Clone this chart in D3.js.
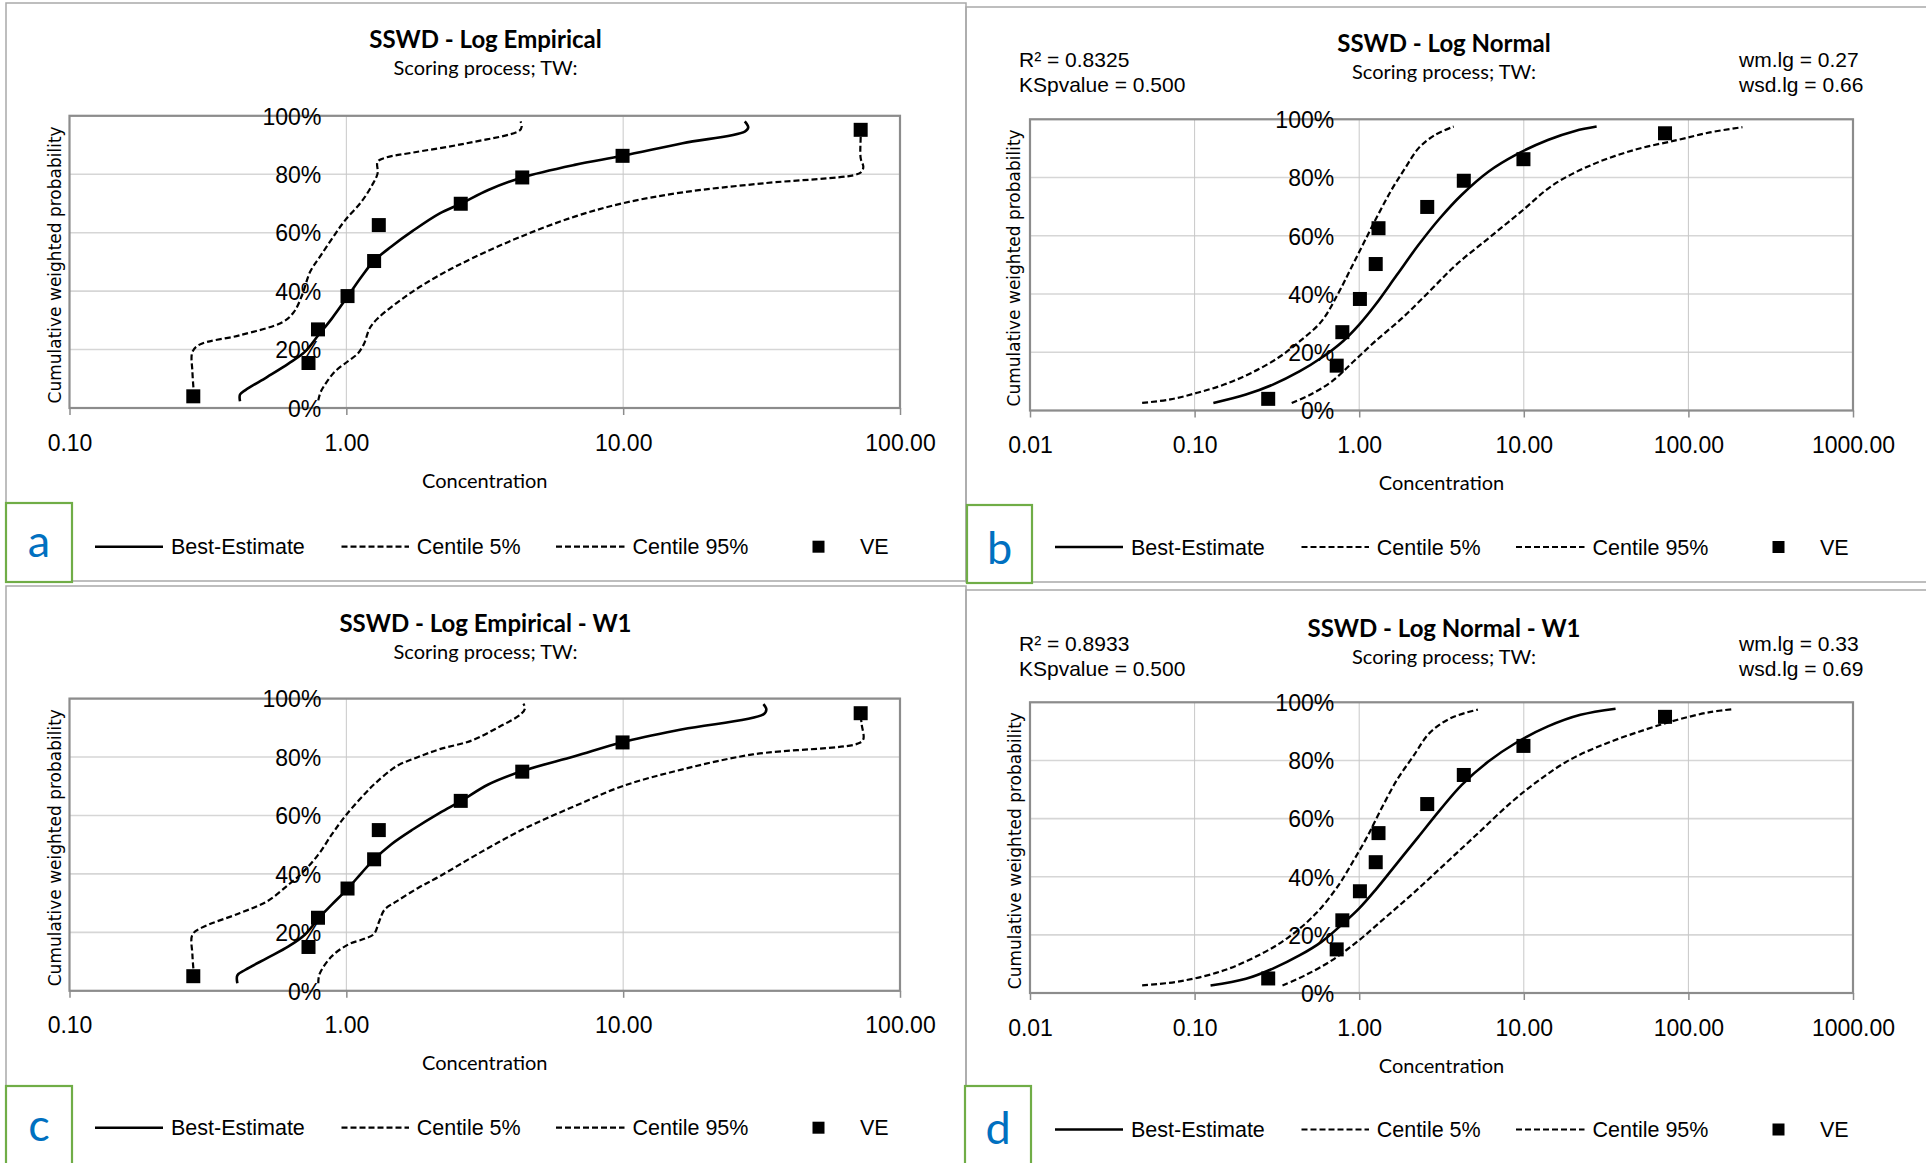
<!DOCTYPE html>
<html>
<head>
<meta charset="utf-8">
<script src="https://cdnjs.cloudflare.com/ajax/libs/d3/7.8.5/d3.min.js"></script>
<style>
  html, body { margin: 0; padding: 0; background: #ffffff; }
  svg { display: block; }
</style>
</head>
<body>
<svg id="chart" width="1926" height="1163"></svg>
<script>
// ---- VE observations (concentration, cumulative weighted probability %) ----
const veConc   = [0.28, 0.73, 0.79, 1.01, 1.26, 1.31, 2.59, 4.32, 9.95, 72.1];
const veProbTW = [4.0, 15.4, 26.9, 38.3, 50.3, 62.6, 69.9, 78.9, 86.3, 95.2];
const veProbW1 = [5, 15, 25, 35, 45, 55, 65, 75, 85, 95];

// ---- Log empirical, TW: [concentration, %] ----
const empBestTW = [[0.413,2.3],[0.413,4.6],[0.432,6.1],[0.517,10.6],[0.618,15.2],[0.708,19.2],[0.792,24.9],[0.886,30.6],[1.01,38.1],[1.134,44.9],[1.257,50.3],[1.451,55.2],[1.737,60.6],[2.175,66.6],[2.59,69.9],[3.256,74.6],[4.32,78.9],[6.68,83.2],[9.95,86.3],[16.4,90.6],[27.5,94.6],[28.3,96.0],[27.5,98.1]];
const empLowTW  = [[0.282,4.0],[0.278,12.3],[0.278,19.2],[0.295,21.7],[0.413,24.9],[0.591,29.5],[0.647,32.9],[0.692,38.6],[0.740,46.6],[0.810,52.3],[0.906,59.2],[0.991,64.3],[1.134,70.6],[1.240,76.3],[1.297,80.3],[1.297,84.3],[1.388,85.7],[1.737,87.4],[2.72,90.6],[4.22,94.9],[4.30,96.3],[4.26,98.1]];
const empHighTW = [[0.792,2.6],[0.810,5.7],[0.906,12.3],[1.014,16.0],[1.099,18.6],[1.160,22.1],[1.213,27.2],[1.297,30.6],[1.661,38.6],[2.174,45.5],[2.846,51.2],[4.26,58.6],[6.68,65.5],[10.0,70.1],[16.4,73.8],[32.1,76.9],[68.9,79.8],[72.7,80.9],[73.7,82.6],[72.1,85.5],[72.1,92.9],[72.1,95.2]];

// ---- Log empirical, W1 ----
const empBestW1 = [[0.404,2.6],[0.404,5.3],[0.432,7.2],[0.517,11.2],[0.618,15.2],[0.708,19.2],[0.792,24.7],[0.886,29.5],[1.01,34.9],[1.134,40.3],[1.257,44.9],[1.451,50.1],[1.737,55.2],[2.175,60.9],[2.59,64.9],[3.256,70.6],[4.32,75.2],[6.68,80.3],[9.95,85.1],[16.4,89.5],[32.1,94.6],[32.9,96.3],[32.1,98.1]];
const empLowW1  = [[0.282,4.6],[0.278,12.3],[0.278,19.2],[0.302,21.7],[0.413,26.6],[0.517,30.6],[0.618,36.3],[0.692,40.3],[0.792,46.6],[0.886,53.5],[0.991,59.8],[1.16,67.2],[1.268,70.9],[1.52,76.9],[1.817,80.0],[2.175,82.7],[2.846,85.7],[3.56,90.3],[4.26,94.6],[4.42,96.7],[4.36,98.3]];
const empHighW1 = [[0.792,2.6],[0.800,5.7],[0.886,11.8],[1.014,15.8],[1.16,17.8],[1.257,19.4],[1.315,23.8],[1.375,27.8],[1.518,30.6],[1.817,35.2],[2.175,39.2],[3.11,47.8],[4.46,55.8],[6.68,63.2],[10.0,70.1],[16.4,75.8],[29.4,80.9],[70.5,84.6],[73.7,86.1],[72.7,91.2],[72.1,94.1]];

// ---- Log normal, TW ----
const normBestTW = [[0.130,2.6],[0.205,5.5],[0.299,8.9],[0.436,13.5],[0.590,18.1],[0.797,23.8],[1.0,29.5],[1.254,36.3],[1.696,46.6],[2.295,56.9],[3.10,66.1],[4.20,74.1],[6.12,82.1],[8.93,87.8],[14.0,92.9],[20.5,96.0],[27.7,97.5]];
const normLowTW  = [[0.048,2.6],[0.0712,3.8],[0.104,6.1],[0.151,8.9],[0.221,12.9],[0.322,18.1],[0.436,23.8],[0.590,30.6],[0.739,39.8],[0.893,48.9],[1.078,58.1],[1.302,67.2],[1.573,75.8],[1.90,83.2],[2.295,90.1],[2.88,94.6],[3.75,97.5]];
const normHighTW = [[0.389,2.6],[0.507,5.5],[0.686,10.1],[0.927,16.9],[1.254,23.8],[1.83,31.8],[2.67,40.9],[3.89,50.1],[6.12,59.2],[9.63,68.3],[15.1,77.5],[25.7,84.3],[47.0,89.5],[86.0,92.9],[135,95.5],[213,97.3]];

// ---- Log normal, W1 ----
const normBestW1 = [[0.125,2.6],[0.205,4.9],[0.299,8.4],[0.436,13.0],[0.590,17.6],[0.797,23.9],[1.0,29.1],[1.254,35.4],[1.696,44.6],[2.295,53.8],[3.10,63.0],[4.20,71.6],[6.12,79.7],[8.93,86.0],[14.0,91.7],[22.1,95.7],[36.1,97.8]];
const normLowW1  = [[0.048,2.6],[0.0828,4.1],[0.151,7.8],[0.257,13.6],[0.375,19.3],[0.547,27.4],[0.739,36.6],[0.927,45.7],[1.12,53.8],[1.352,63.0],[1.696,73.3],[2.128,81.4],[2.67,89.4],[3.61,94.6],[5.26,97.5]];
const normHighW1 = [[0.342,2.6],[0.47,6.1],[0.686,11.3],[1.0,18.2],[1.458,26.2],[2.128,34.3],[3.35,44.6],[5.26,54.9],[8.28,65.3],[12.1,72.8],[19.0,80.2],[32.2,86.0],[54.7,90.6],[86.0,94.0],[135,96.6],[190,97.7]];

// ---- Axis ticks and labels ----
const xTicksEmp  = [0.1, 1, 10, 100];
const xTicksNorm = [0.01, 0.1, 1, 10, 100, 1000];
const yTicks     = [0, 20, 40, 60, 80, 100];
const legendLabels = ["Best-Estimate", "Centile 5%", "Centile 95%", "VE"];
const panelTitles  = ["SSWD - Log Empirical", "SSWD - Log Normal", "SSWD - Log Empirical - W1", "SSWD - Log Normal - W1"];
const panelSubtitle = "Scoring process; TW:";
const panelLetters = ["a", "b", "c", "d"];
const xAxisTitle = "Concentration";
const yAxisTitle = "Cumulative weighted probability";
const fitStatsTW = ["R\u00B2 = 0.8325", "KSpvalue = 0.500"];
const fitParamsTW = ["wm.lg = 0.27", "wsd.lg = 0.66"];
const fitStatsW1 = ["R\u00B2 = 0.8933", "KSpvalue = 0.500"];
const fitParamsW1 = ["wm.lg = 0.33", "wsd.lg = 0.69"];

const svg = d3.select("#chart");
const FONT_TITLE = "Lato, 'Open Sans', sans-serif";
const FONT_ARIAL = "'Liberation Sans', Arial, sans-serif";
const DASH = "6,3";

function drawPanel(o) {
  const g = svg.append("g");

  // outer panel frame
  g.append("rect")
    .attr("x", o.frame[0]).attr("y", o.frame[1])
    .attr("width", o.frame[2] - o.frame[0]).attr("height", o.frame[3] - o.frame[1])
    .attr("fill", "none").attr("stroke", "#a9a9a9").attr("stroke-width", 1.5);

  const x = d3.scaleLog().domain([o.xTicks[0], o.xTicks[o.xTicks.length - 1]]).range([o.L, o.R]);
  const y = d3.scaleLinear().domain([0, 100]).range([o.B, o.T]);

  // gridlines
  g.append("g").selectAll("line").data(yTicks).join("line")
    .attr("x1", o.L).attr("x2", o.R)
    .attr("y1", d => y(d)).attr("y2", d => y(d))
    .attr("stroke", "#d6d6d6").attr("stroke-width", 1.6);
  g.append("g").selectAll("line").data(o.xTicks).join("line")
    .attr("x1", d => x(d)).attr("x2", d => x(d))
    .attr("y1", o.T).attr("y2", o.B)
    .attr("stroke", "#c8c8c8").attr("stroke-width", 1);

  // plot border
  g.append("rect")
    .attr("x", o.L).attr("y", o.T)
    .attr("width", o.R - o.L).attr("height", o.B - o.T)
    .attr("fill", "none").attr("stroke", "#8c8c8c").attr("stroke-width", 2.2);

  // x axis (ticks below the plot)
  const xa = g.append("g").attr("transform", `translate(0,${o.B})`)
    .call(d3.axisBottom(x).tickValues(o.xTicks).tickFormat(d3.format(".2f")).tickSize(7));
  xa.select(".domain").remove();
  xa.selectAll(".tick line").attr("stroke", "#8c8c8c").attr("stroke-width", 1.5);
  xa.selectAll(".tick text")
    .attr("y", 42.5).attr("dy", null)
    .attr("font-family", FONT_ARIAL).attr("font-size", 23).attr("fill", "#000");

  // y axis crossing at concentration 1
  const ya = g.append("g").attr("transform", `translate(${x(1)},0)`)
    .call(d3.axisLeft(y).tickValues(yTicks).tickFormat(d => d + "%").tickSize(0).tickPadding(25));
  ya.select(".domain").remove();
  ya.selectAll(".tick text")
    .attr("dy", "0.36em")
    .attr("font-family", FONT_ARIAL).attr("font-size", 23).attr("fill", "#000");

  // axis titles
  g.append("text")
    .attr("x", (o.L + o.R) / 2).attr("y", o.B + 79.5)
    .attr("text-anchor", "middle")
    .attr("font-family", FONT_TITLE).attr("font-size", 20).attr("fill", "#000")
    .text(xAxisTitle);
  g.append("text")
    .attr("transform", `translate(${o.yTitleX},${(o.T + o.B) / 2 + 3}) rotate(-90)`)
    .attr("text-anchor", "middle").attr("dy", "0.36em")
    .attr("font-family", "'DejaVu Sans', Verdana, sans-serif").attr("font-size", 17).attr("fill", "#000")
    .text(yAxisTitle);

  // chart title and subtitle
  g.append("text")
    .attr("x", o.titleX).attr("y", o.titleY)
    .attr("text-anchor", "middle")
    .attr("font-family", FONT_TITLE).attr("font-weight", "bold").attr("font-size", 24).attr("fill", "#000")
    .text(o.title);
  g.append("text")
    .attr("x", o.titleX).attr("y", o.subY)
    .attr("text-anchor", "middle")
    .attr("font-family", FONT_TITLE).attr("font-size", 20).attr("fill", "#000")
    .text(panelSubtitle);

  // fit statistics (log-normal panels)
  if (o.stats) {
    g.append("g").selectAll("text").data(o.stats).join("text")
      .attr("x", o.statsX).attr("y", (d, i) => o.statsY + i * 24.5)
      .attr("font-family", FONT_ARIAL).attr("font-size", 21).attr("fill", "#000")
      .text(d => d);
    g.append("g").selectAll("text").data(o.params).join("text")
      .attr("x", o.paramsX).attr("y", (d, i) => o.statsY + i * 24.5)
      .attr("font-family", FONT_ARIAL).attr("font-size", 21).attr("fill", "#000")
      .text(d => d);
  }

  // curves
  const line = d3.line()
    .x(d => x(d[0])).y(d => y(d[1]))
    .curve(d3.curveCatmullRom.alpha(0.5));
  const plot = g.append("g");
  plot.append("path").datum(o.low).attr("d", line)
    .attr("fill", "none").attr("stroke", "#000").attr("stroke-width", 2.2).attr("stroke-dasharray", DASH);
  plot.append("path").datum(o.high).attr("d", line)
    .attr("fill", "none").attr("stroke", "#000").attr("stroke-width", 2.2).attr("stroke-dasharray", DASH);
  plot.append("path").datum(o.best).attr("d", line)
    .attr("fill", "none").attr("stroke", "#000").attr("stroke-width", 2.6);

  // VE points
  const pts = veConc.map((c, i) => [c, o.ve[i]]);
  const m = 14;
  plot.selectAll("rect.ve").data(pts).join("rect").attr("class", "ve")
    .attr("x", d => x(d[0]) - m / 2).attr("y", d => y(d[1]) - m / 2)
    .attr("width", m).attr("height", m).attr("fill", "#000");

  // legend
  const pl = o.frame[0];
  const lg = g.append("g").attr("transform", `translate(${pl},${o.legendY})`);
  lg.append("line").attr("x1", 89).attr("x2", 157).attr("y1", 0).attr("y2", 0)
    .attr("stroke", "#000").attr("stroke-width", 2.6);
  lg.append("line").attr("x1", 335.5).attr("x2", 403).attr("y1", 0).attr("y2", 0)
    .attr("stroke", "#000").attr("stroke-width", 2.2).attr("stroke-dasharray", DASH);
  lg.append("line").attr("x1", 550).attr("x2", 618.5).attr("y1", 0).attr("y2", 0)
    .attr("stroke", "#000").attr("stroke-width", 2.2).attr("stroke-dasharray", DASH);
  lg.append("rect").attr("x", 812.5 - 6).attr("y", -6).attr("width", 12).attr("height", 12).attr("fill", "#000");
  const lx = [165, 410.7, 626.5, 854];
  lg.selectAll("text").data(legendLabels).join("text")
    .attr("x", (d, i) => lx[i]).attr("y", 0).attr("dy", "0.36em")
    .attr("font-family", FONT_ARIAL).attr("font-size", 21.5).attr("fill", "#000")
    .text(d => d);

  // panel letter box
  g.append("rect")
    .attr("x", o.box[0]).attr("y", o.box[1]).attr("width", o.box[2]).attr("height", o.box[3])
    .attr("fill", "#fff").attr("stroke", "#70ad47").attr("stroke-width", 2.2);
  g.append("text")
    .attr("x", o.box[0] + o.box[2] / 2).attr("y", o.letterY)
    .attr("text-anchor", "middle")
    .attr("font-family", FONT_TITLE).attr("font-size", 45).attr("fill", "#0070c0")
    .text(o.letter);
}

drawPanel({
  frame: [6, 3, 966, 581], L: 69.5, R: 900, T: 115.8, B: 408,
  xTicks: xTicksEmp, title: panelTitles[0], titleX: 485.5, titleY: 48, subY: 75,
  yTitleX: 55, best: empBestTW, low: empLowTW, high: empHighTW, ve: veProbTW,
  legendY: 546.7, box: [6, 503, 66, 79], letter: panelLetters[0], letterY: 557
});
drawPanel({
  frame: [966, 7, 1930, 582], L: 1030, R: 1853, T: 119.3, B: 410.5,
  xTicks: xTicksNorm, title: panelTitles[1], titleX: 1444, titleY: 52, subY: 79,
  yTitleX: 1014, best: normBestTW, low: normLowTW, high: normHighTW, ve: veProbTW,
  stats: fitStatsTW, params: fitParamsTW, statsX: 1019, paramsX: 1739, statsY: 67,
  legendY: 547, box: [967, 505, 65, 78], letter: panelLetters[1], letterY: 564
});
drawPanel({
  frame: [6, 586, 966, 1170], L: 69.5, R: 900, T: 698.6, B: 990.8,
  xTicks: xTicksEmp, title: panelTitles[2], titleX: 485.5, titleY: 632, subY: 659,
  yTitleX: 55, best: empBestW1, low: empLowW1, high: empHighW1, ve: veProbW1,
  legendY: 1127.7, box: [6, 1086, 66, 90], letter: panelLetters[2], letterY: 1141
});
drawPanel({
  frame: [966, 590, 1930, 1170], L: 1030, R: 1853, T: 702.3, B: 993,
  xTicks: xTicksNorm, title: panelTitles[3], titleX: 1444, titleY: 636.5, subY: 663.5,
  yTitleX: 1015, best: normBestW1, low: normLowW1, high: normHighW1, ve: veProbW1,
  stats: fitStatsW1, params: fitParamsW1, statsX: 1019, paramsX: 1739, statsY: 651,
  legendY: 1129.5, box: [965, 1086, 66, 90], letter: panelLetters[3], letterY: 1144
});
</script>
</body>
</html>
